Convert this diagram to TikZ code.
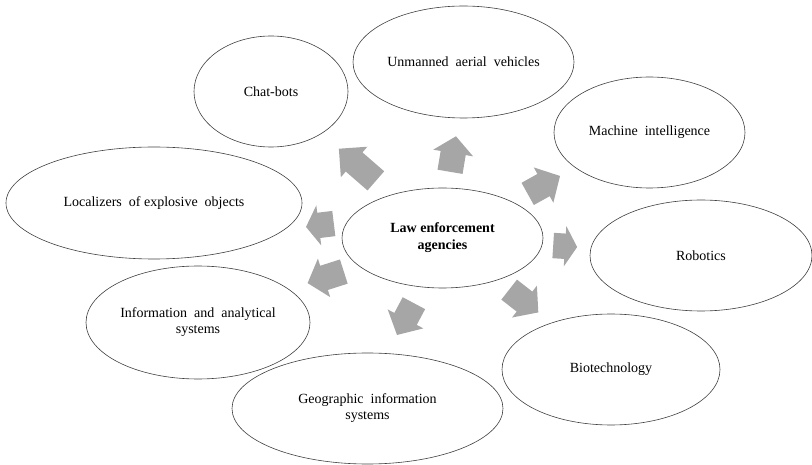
\documentclass[tikz,border=0pt]{standalone}
\usepackage{fontspec}
\setmainfont{Liberation Serif}
\usetikzlibrary{shapes.geometric, shapes.arrows, positioning}
\definecolor{arrowgray}{HTML}{A6A6A6}

\begin{document}
\begin{tikzpicture}[x = 1pt, y = -1pt, font = \fontsize{14}{16}\selectfont,
	topic/.style = {ellipse, draw = black!75, line width = 0.6pt, inner sep = 0pt, align = center},
	blockarrow/.style = {single arrow, fill = arrowgray, draw = none, inner xsep = 0pt, inner ysep = 12.5pt, single arrow head extend = 7.5pt, anchor = tail}]

\useasboundingbox (0,0) rectangle (812,465);

\node[topic, minimum width = 201pt, minimum height = 100pt, font = \fontsize{14}{17}\selectfont\bfseries]	(law)	at (442.5,238)	{Law enforcement\\agencies};
\node[topic, minimum width = 154pt, minimum height = 111pt]	(chat)	at (271,91.5)		{Chat-bots};
\node[topic, minimum width = 221pt, minimum height = 112pt]	(uav)	at (463.5,62)		{Unmanned\ \ aerial\ \ vehicles};
\node[topic, minimum width = 191pt, minimum height = 111pt]	(mi)	at (649.5,132.5)	{Machine\ \ intelligence};
\node[topic, minimum width = 222pt, minimum height = 111pt]	(robo)	at (701,255.5)		{Robotics};
\node[topic, minimum width = 218pt, minimum height = 111pt]	(bio)	at (611,369.5)		{Biotechnology};
\node[topic, minimum width = 271pt, minimum height = 111pt]	(gis)	at (367.5,408.5)	{Geographic\ \ information\\systems};
\node[topic, minimum width = 224pt, minimum height = 113pt]	(ias)	at (198,322.5)		{Information\ \ and\ \ analytical\\systems};
\node[topic, minimum width = 296pt, minimum height = 112pt]	(loc)	at (154,203)		{Localizers\ \ of explosive\ \ objects};

\node[blockarrow, rotate = 139, minimum height = 49pt, single arrow tip angle = 90]		(a1)	at (376,181)	{};
\node[blockarrow, rotate = 80.5, minimum height = 36pt, single arrow tip angle = 100]	(a2)	at (450,172)	{};
\node[blockarrow, rotate = 29, minimum height = 37pt, single arrow tip angle = 94]		(a3)	at (527.5,194)	{};
\node[blockarrow, rotate = -3.6, minimum height = 24pt, single arrow tip angle = 118]	(a4)	at (553,245.5)	{};
\node[blockarrow, rotate = -38, minimum height = 37pt, single arrow tip angle = 98]		(a5)	at (509,289.5)	{};
\node[blockarrow, rotate = -118, minimum height = 36pt, single arrow tip angle = 96]		(a6)	at (414,303)	{};
\node[blockarrow, rotate = 197.7, minimum height = 38pt, single arrow tip angle = 99]	(a7)	at (344,271.5)	{};
\node[blockarrow, rotate = 187, minimum height = 28pt, single arrow tip angle = 115]	(a8)	at (334,223.5)	{};

\end{tikzpicture}
\end{document}
